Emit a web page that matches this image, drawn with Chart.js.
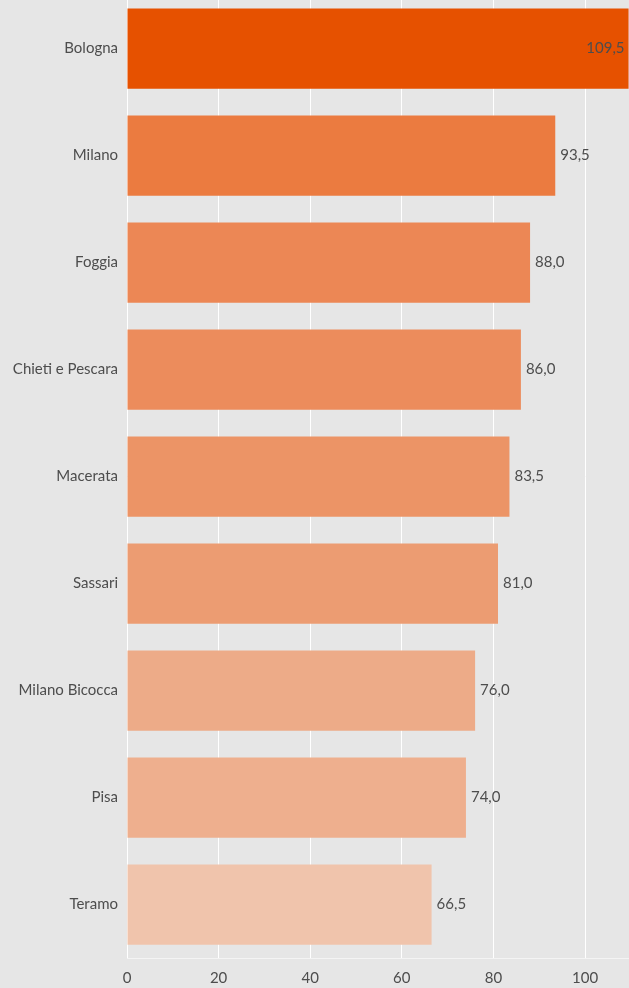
<!DOCTYPE html>
<html>
<head>
<meta charset="utf-8">
<script src="https://cdn.jsdelivr.net/npm/chart.js@4.4.1/dist/chart.umd.min.js"></script>
<style>
  html, body { margin: 0; padding: 0; background: #e6e6e6; overflow: hidden; }
  #wrap { position: absolute; left: 0; top: -5px; width: 629px; height: 993px; }
</style>
</head>
<body>
<div id="wrap"><canvas id="barChart"></canvas></div>
<script>
// ---------- DATA ----------
const cities = [
    "Bologna", "Milano", "Foggia", "Chieti e Pescara", "Macerata",
    "Sassari", "Milano Bicocca", "Pisa", "Teramo"
];

const scores = [109.5, 93.5, 88.0, 86.0, 83.5, 81.0, 76.0, 74.0, 66.5];

const barColors = [
    "#e65100", "#eb7b40", "#ec8755", "#ec8c5c", "#ec9466",
    "#ec9c72", "#edab88", "#eeaf8e", "#f0c4ac"
];

const xTicks = [0, 20, 40, 60, 80, 100];

const textColor = "#4d4d4d";
const fontFamily = "Lato, 'Open Sans', sans-serif";

// ---------- VALUE LABELS ----------
const valueLabels = {
    id: "valueLabels",
    afterDatasetsDraw(chart) {
        const { ctx, chartArea } = chart;
        const meta = chart.getDatasetMeta(0);
        ctx.save();
        ctx.font = "15px " + fontFamily;
        ctx.fillStyle = textColor;
        ctx.textBaseline = "middle";
        meta.data.forEach((bar, i) => {
            const txt = scores[i].toFixed(1).replace(".", ",");
            const w = ctx.measureText(txt).width;
            const barEnd = Math.min(bar.x, chartArea.right);
            if (barEnd + 5 + w > chartArea.right) {
                // no room outside: put it inside the bar end
                ctx.textAlign = "right";
                ctx.fillText(txt, barEnd - 4, bar.y);
            } else {
                ctx.textAlign = "left";
                ctx.fillText(txt, barEnd + 5, bar.y);
            }
        });
        ctx.restore();
    }
};

// ---------- CHART ----------
new Chart(document.getElementById("barChart"), {
    type: "bar",
    data: {
        labels: cities,
        datasets: [{
            data: scores,
            backgroundColor: barColors,
            borderWidth: 0,
            barPercentage: 0.75,
            categoryPercentage: 1
        }]
    },
    plugins: [valueLabels],
    options: {
        indexAxis: "y",
        responsive: true,
        maintainAspectRatio: false,
        animation: false,
        layout: { padding: 0 },
        plugins: {
            legend: { display: false },
            tooltip: { enabled: false }
        },
        scales: {
            x: {
                min: 0,
                max: 109.6,
                afterBuildTicks(axis) {
                    axis.ticks = xTicks.map(v => ({ value: v }));
                },
                afterFit(axis) { axis.height = 30; },
                grid: { color: "#ffffff", lineWidth: 1, drawTicks: false },
                border: { display: true, color: "#f4f4f4", width: 1 },
                ticks: {
                    color: textColor,
                    padding: 11,
                    font: { family: fontFamily, size: 15 }
                }
            },
            y: {
                afterFit(axis) {
                    axis.width = 127;
                    axis.paddingTop = 0;
                    axis.paddingBottom = 0;
                },
                grid: { display: false, drawTicks: false },
                border: { display: false },
                ticks: {
                    color: textColor,
                    padding: 9,
                    font: { family: fontFamily, size: 15 }
                }
            }
        }
    }
});
</script>
</body>
</html>
